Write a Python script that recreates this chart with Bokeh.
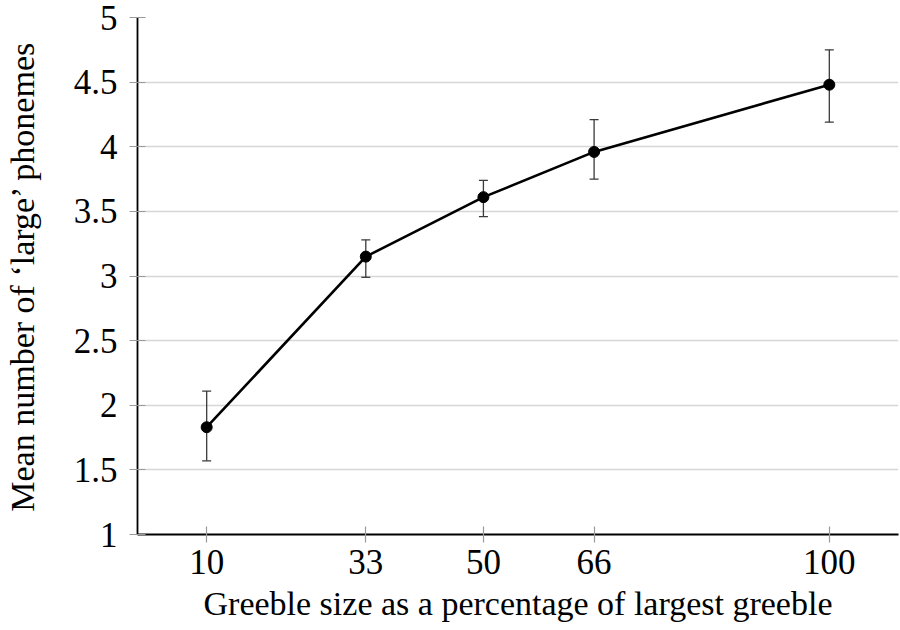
from bokeh.plotting import figure
from bokeh.models import FixedTicker, Range1d, Whisker, ColumnDataSource
from bokeh.embed import file_html
from bokeh.resources import INLINE

# greeble size (% of largest) vs mean number of 'large' phonemes
sizes = [10, 33, 50, 66, 100]
means = [1.83, 3.15, 3.61, 3.96, 4.48]
err_low = [1.57, 2.99, 3.46, 3.75, 4.19]
err_high = [2.11, 3.28, 3.74, 4.21, 4.75]

x_ticks = [10, 33, 50, 66, 100]
y_ticks = [1, 1.5, 2, 2.5, 3, 3.5, 4, 4.5, 5]

FONT = "Liberation Serif"

src = ColumnDataSource(data=dict(x=sizes, y=means, lo=err_low, hi=err_high))

p = figure(width=900, height=630, output_backend="svg", toolbar_location=None,
           x_range=Range1d(0, 110), y_range=Range1d(1, 5),
           min_border_left=137, min_border_right=2, min_border_top=17, min_border_bottom=96)
p.outline_line_color = None
p.background_fill_color = "white"

# error bars
err = Whisker(source=src, base="x", lower="lo", upper="hi",
              line_color="#3a3a3a", line_width=1.3)
for head in (err.upper_head, err.lower_head):
    head.size = 9
    head.line_color = "#3a3a3a"
    head.line_width = 1.3
p.add_layout(err)

p.line("x", "y", source=src, line_color="black", line_width=2.6)
p.scatter("x", "y", source=src, size=11, fill_color="black", line_color="black")

p.xgrid.grid_line_color = None
p.ygrid.grid_line_color = "#d6d6d6"
p.ygrid.grid_line_width = 1.4

p.xaxis.ticker = FixedTicker(ticks=x_ticks)
p.yaxis.ticker = FixedTicker(ticks=y_ticks)
p.yaxis.major_label_overrides = {v: ("%g" % v) for v in y_ticks}

for ax in (p.xaxis, p.yaxis):
    ax.axis_line_color = "black"
    ax.axis_line_width = 1.8
    ax.major_tick_line_color = "#9a9a9a"
    ax.major_tick_line_width = 1.2
    ax.major_tick_in = 8
    ax.major_tick_out = 8
    ax.minor_tick_line_color = None
    ax.major_label_text_font = FONT
    ax.major_label_text_font_size = "35px"
    ax.major_label_text_color = "black"
    ax.axis_label_text_font = FONT
    ax.axis_label_text_font_size = "34px"
    ax.axis_label_text_font_style = "normal"
    ax.axis_label_text_color = "black"

p.xaxis.axis_label = "Greeble size as a percentage of largest greeble"
p.yaxis.axis_label = "Mean number of \u2018large\u2019 phonemes"
p.xaxis.major_label_standoff = 7
p.yaxis.major_label_standoff = 12
p.xaxis.axis_label_standoff = 8
p.yaxis.axis_label_standoff = 30

open("out.html", "w").write(file_html(p, INLINE))
